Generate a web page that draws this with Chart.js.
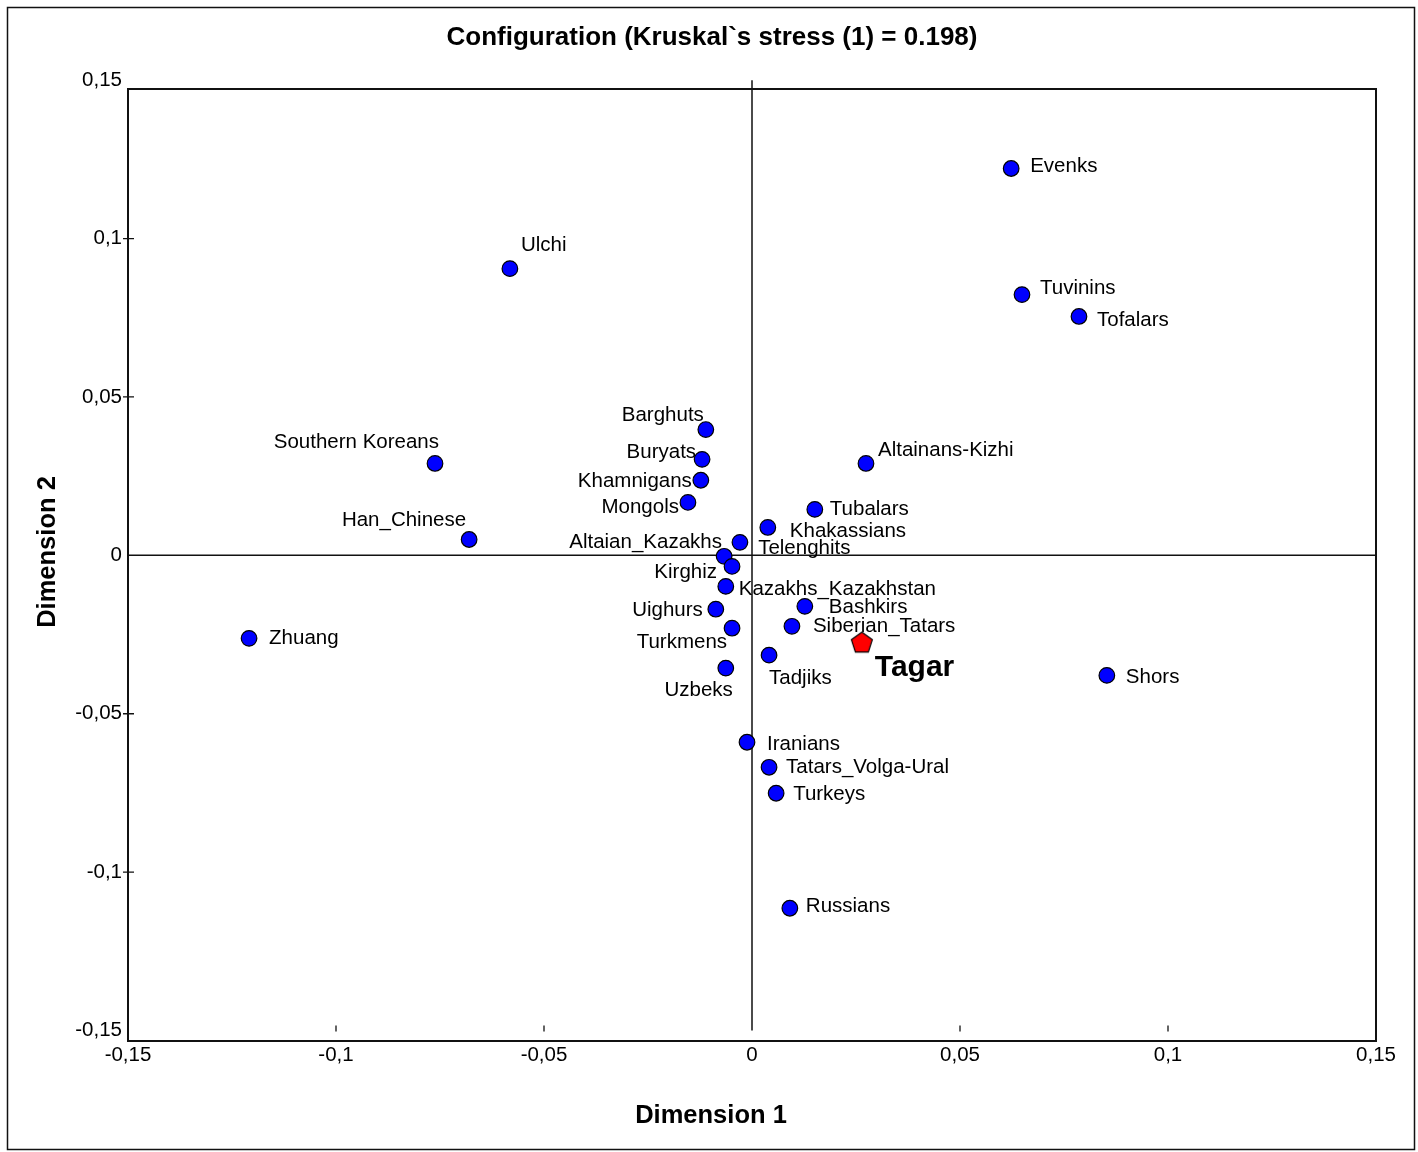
<!DOCTYPE html>
<html lang="en">
<head>
    <meta charset="UTF-8">
    <style>
        body { margin: 0; background: #fff; }
        canvas { display: block; }
    </style>
</head>
<body>
    <canvas id="mdsChart" width="1418" height="1152"></canvas>

    <script src="https://cdn.jsdelivr.net/npm/chart.js"></script>
    <script>
        // populations and their MDS coordinates
        const populations = ["Evenks", "Ulchi", "Tuvinins", "Tofalars", "Barghuts", "Southern Koreans",
            "Buryats", "Altainans-Kizhi", "Khamnigans", "Mongols", "Tubalars", "Khakassians",
            "Han_Chinese", "Altaian_Kazakhs", "Telenghits", "Kirghiz", "Kazakhs_Kazakhstan", "Bashkirs",
            "Uighurs", "Siberian_Tatars", "Turkmens", "Tadjiks", "Uzbeks", "Shors", "Zhuang",
            "Iranians", "Tatars_Volga-Ural", "Turkeys", "Russians"];
        const dim1 = [0.0623, -0.0582, 0.0649, 0.0786, -0.0111, -0.0762,
            -0.0120, 0.0274, -0.0123, -0.0154, 0.0151, 0.0038,
            -0.0680, -0.0029, -0.0067, -0.0048, -0.0063, 0.0127,
            -0.0087, 0.0096, -0.0048, 0.0041, -0.0063, 0.0853, -0.1209,
            -0.0012, 0.0041, 0.0058, 0.0091];
        const dim2 = [0.1221, 0.0905, 0.0823, 0.0754, 0.0397, 0.0290,
            0.0303, 0.0290, 0.0237, 0.0167, 0.0145, 0.0088,
            0.0050, 0.0041, -0.0003, -0.0035, -0.0098, -0.0161,
            -0.0170, -0.0224, -0.0230, -0.0315, -0.0356, -0.0379, -0.0262,
            -0.0590, -0.0669, -0.0751, -0.1114];

        const targetName = "Tagar";
        const targetDim1 = [0.0264];
        const targetDim2 = [-0.0274];

        const tickValues = [-0.15, -0.1, -0.05, 0, 0.05, 0.1, 0.15];
        const tickLabels = ["-0,15", "-0,1", "-0,05", "0", "0,05", "0,1", "0,15"];

        const chartTitle = "Configuration (Kruskal`s stress (1) = 0.198)";
        const xTitle = "Dimension 1";
        const yTitle = "Dimension 2";

        // label placement relative to the marker: [dx, dy, align]
        const labelPos = [[19, -2, "left"], [11, -23, "left"], [18, -6, "left"], [18, 4, "left"],
            [-2, -14, "right"], [4, -21, "right"], [-6, -7, "right"], [12, -13, "left"],
            [-9, 1, "right"], [-9, 5, "right"], [15, 0, "left"], [22, 4, "left"],
            [-3, -19, "right"], [-18, 0, "right"], [34, -8, "left"], [-15, 6, "right"],
            [13, 3, "left"], [24, 1, "left"], [-13, 1, "right"], [21, 0, "left"],
            [-5, 14, "right"], [0, 23, "left"], [7, 22, "right"], [19, 2, "left"],
            [20, 0, "left"], [20, 2, "left"], [17, 0, "left"], [17, 1, "left"], [16, -2, "left"]];

        const FONT = "'Liberation Sans', Arial, Helvetica, sans-serif";

        // red pentagon marker for Tagar
        function pentagon(size) {
            const c = document.createElement("canvas");
            c.width = size + 4;
            c.height = size + 4;
            const g = c.getContext("2d");
            const cx = c.width / 2, cy = c.height / 2 + 1, r = size / 2;
            g.beginPath();
            for (let i = 0; i < 5; i++) {
                const a = -Math.PI / 2 + i * 2 * Math.PI / 5;
                const px = cx + r * Math.cos(a), py = cy + r * Math.sin(a);
                if (i === 0) g.moveTo(px, py); else g.lineTo(px, py);
            }
            g.closePath();
            g.fillStyle = "#ff0000";
            g.fill();
            g.lineWidth = 1.2;
            g.strokeStyle = "#000";
            g.stroke();
            return c;
        }

        const decorations = {
            id: "decorations",
            beforeDatasetsDraw(chart) {
                const {ctx, chartArea: a, scales: {x, y}} = chart;
                ctx.save();
                ctx.strokeStyle = "#111";
                // zero lines
                ctx.lineWidth = 1.5;
                ctx.beginPath();
                ctx.moveTo(a.left, y.getPixelForValue(0));
                ctx.lineTo(a.right, y.getPixelForValue(0));
                ctx.moveTo(x.getPixelForValue(0), y.getPixelForValue(0.15));
                ctx.lineTo(x.getPixelForValue(0), y.getPixelForValue(-0.15));
                ctx.stroke();
                // small tick marks
                ctx.lineWidth = 1.3;
                ctx.beginPath();
                [-0.1, -0.05, 0.05, 0.1].forEach(v => {
                    const px = x.getPixelForValue(v);
                    const yb = y.getPixelForValue(-0.15);
                    ctx.moveTo(px, yb - 5);
                    ctx.lineTo(px, yb + 1);
                    const py = y.getPixelForValue(v);
                    ctx.moveTo(a.left - 5, py);
                    ctx.lineTo(a.left + 6, py);
                });
                ctx.stroke();
                // plot frame
                ctx.lineWidth = 2;
                ctx.strokeRect(a.left, a.top, a.right - a.left, a.bottom - a.top);
                // outer frame
                ctx.lineWidth = 1.5;
                ctx.strokeRect(7.5, 7.5, 1407, 1142);

                // titles
                ctx.fillStyle = "#000";
                ctx.textAlign = "center";
                ctx.textBaseline = "middle";
                ctx.font = "bold 26px " + FONT;
                ctx.fillText(chartTitle, 712, 38);
                ctx.font = "bold 25.5px " + FONT;
                ctx.fillText(xTitle, 711, 1116);
                ctx.translate(48, 552);
                ctx.rotate(-Math.PI / 2);
                ctx.fillText(yTitle, 0, 0);
                ctx.restore();
            },
            afterDatasetsDraw(chart) {
                const {ctx} = chart;
                ctx.save();
                ctx.fillStyle = "#000";
                ctx.textBaseline = "middle";
                ctx.font = "20.5px " + FONT;
                chart.getDatasetMeta(0).data.forEach((pt, i) => {
                    const [dx, dy, align] = labelPos[i];
                    ctx.textAlign = align;
                    ctx.fillText(populations[i], pt.x + dx, pt.y + dy);
                });
                const t = chart.getDatasetMeta(1).data[0];
                ctx.font = "bold 30px " + FONT;
                ctx.textAlign = "left";
                ctx.fillText(targetName, t.x + 13, t.y + 26);
                ctx.restore();
            }
        };

        const tickFont = { family: FONT, size: 20.5 };

        const config = {
            type: "scatter",
            data: {
                datasets: [{
                    label: "Populations",
                    data: populations.map((p, i) => ({ x: dim1[i], y: dim2[i] })),
                    backgroundColor: "#0000ff",
                    borderColor: "#000",
                    borderWidth: 1.2,
                    pointRadius: 7.8,
                    pointHoverRadius: 7.8
                }, {
                    label: targetName,
                    data: targetDim1.map((v, i) => ({ x: v, y: targetDim2[i] })),
                    pointStyle: pentagon(22),
                    pointRadius: 11
                }]
            },
            options: {
                responsive: false,
                animation: false,
                layout: { padding: { left: 0, right: 42, top: 89, bottom: 0 } },
                plugins: {
                    legend: { display: false },
                    tooltip: { enabled: false },
                    title: { display: false }
                },
                scales: {
                    x: {
                        type: "linear",
                        min: -0.15,
                        max: 0.15,
                        afterBuildTicks: s => { s.ticks = tickValues.map(v => ({ value: v })); },
                        afterFit: s => { s.height = 111; },
                        grid: { display: false, drawTicks: false },
                        border: { display: false },
                        ticks: {
                            padding: 2,
                            color: "#000",
                            font: tickFont,
                            maxRotation: 0,
                            autoSkip: false,
                            callback: v => tickLabels[tickValues.indexOf(v)]
                        },
                        title: { display: false }
                    },
                    y: {
                        type: "linear",
                        min: -0.1533,
                        max: 0.1472,
                        afterBuildTicks: s => { s.ticks = tickValues.map(v => ({ value: v })); },
                        afterFit: s => { s.width = 128; },
                        grid: { display: false, drawTicks: false },
                        border: { display: false },
                        ticks: {
                            padding: 6,
                            color: "#000",
                            font: tickFont,
                            autoSkip: false,
                            callback: v => tickLabels[tickValues.indexOf(v)]
                        },
                        title: { display: false }
                    }
                }
            },
            plugins: [decorations]
        };

        const ctx = document.getElementById("mdsChart").getContext("2d");
        new Chart(ctx, config);
    </script>
</body>
</html>
